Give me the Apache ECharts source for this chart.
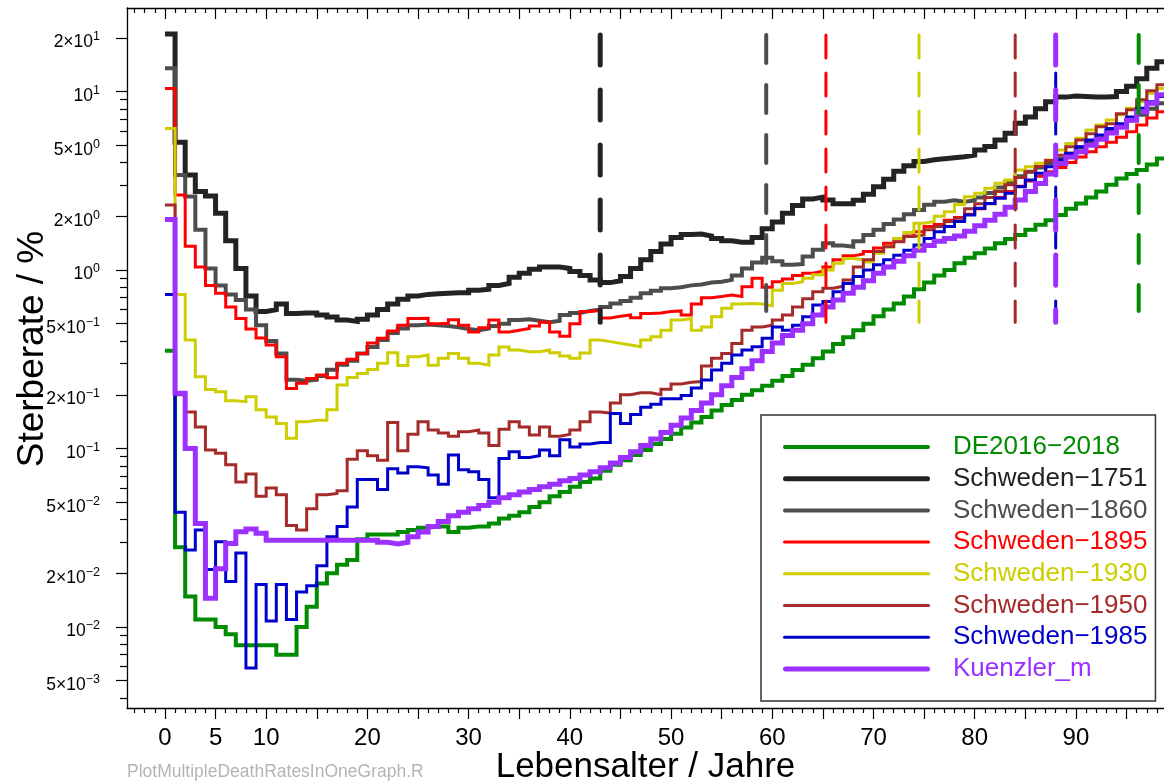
<!DOCTYPE html>
<html>
<head>
<meta charset="utf-8">
<title>Sterberaten</title>
<script src="https://cdn.jsdelivr.net/npm/echarts@6/dist/echarts.min.js"></script>
<style>
  html, body { margin: 0; padding: 0; background: #fff; }
  #chart { width: 1164px; height: 784px; }
</style>
</head>
<body>
<div id="chart"></div>
<script>
// Death rates (percent per year of age) by single year of age 0..98
const seriesNames = ['DE2016−2018', 'Schweden−1751', 'Schweden−1860', 'Schweden−1895',
                     'Schweden−1930', 'Schweden−1950', 'Schweden−1985', 'Kuenzler_m'];

const de2016 = [0.353, 0.028, 0.0148, 0.011, 0.011, 0.01, 0.0091, 0.0079, 0.0079, 0.0079,
  0.0079, 0.007, 0.007, 0.01, 0.013, 0.0175, 0.02, 0.0223, 0.0237, 0.031,
  0.033, 0.033, 0.033, 0.034, 0.035, 0.036, 0.0365, 0.0365, 0.034, 0.036,
  0.0365, 0.0365, 0.038, 0.0405, 0.042, 0.044, 0.047, 0.05, 0.054, 0.057,
  0.061, 0.065, 0.068, 0.075, 0.081, 0.086, 0.092, 0.098, 0.106, 0.113,
  0.121, 0.131, 0.14, 0.15, 0.163, 0.175, 0.187, 0.2, 0.212, 0.225,
  0.24, 0.255, 0.275, 0.295, 0.32, 0.35, 0.385, 0.42, 0.46, 0.5,
  0.55, 0.6, 0.65, 0.71, 0.78, 0.85, 0.93, 1.0, 1.09, 1.17,
  1.24, 1.32, 1.41, 1.49, 1.57, 1.68, 1.79, 1.9, 2.03, 2.2,
  2.36, 2.55, 2.75, 3.0, 3.26, 3.45, 3.63, 3.9, 4.22];

const sweden1751 = [21, 5.2, 3.4, 2.75, 2.6, 2.08, 1.46, 1.02, 0.715, 0.585,
  0.6, 0.645, 0.57, 0.575, 0.575, 0.56, 0.545, 0.525, 0.515, 0.53,
  0.56, 0.6, 0.645, 0.685, 0.715, 0.73, 0.735, 0.74, 0.745, 0.745,
  0.77, 0.78, 0.82, 0.84, 0.91, 0.96, 1.01, 1.04, 1.04, 1.02,
  0.98, 0.93, 0.88, 0.85, 0.87, 0.92, 1.02, 1.14, 1.27, 1.4,
  1.52, 1.58, 1.59, 1.55, 1.5, 1.46, 1.43, 1.43, 1.52, 1.7,
  1.86, 2.08, 2.3, 2.5, 2.56, 2.47, 2.35, 2.35, 2.46, 2.66,
  2.93, 3.22, 3.58, 3.84, 4.05, 4.15, 4.2, 4.25, 4.31, 4.4,
  4.7, 4.92, 5.35, 5.83, 6.63, 7.2, 8.0, 8.77, 9.3, 9.44,
  9.37, 9.3, 9.3, 9.37, 10.0, 10.7, 11.8, 13.5, 14.7];

const sweden1860 = [13.5, 3.4, 2.58, 1.68, 1.02, 0.82, 0.73, 0.68, 0.6, 0.49,
  0.4, 0.34, 0.243, 0.24, 0.243, 0.255, 0.276, 0.295, 0.31, 0.34,
  0.37, 0.405, 0.443, 0.47, 0.49, 0.495, 0.49, 0.485, 0.478, 0.467,
  0.46, 0.47, 0.485, 0.5, 0.525, 0.53, 0.52, 0.51, 0.52, 0.56,
  0.575, 0.59, 0.6, 0.62, 0.65, 0.67, 0.7, 0.74, 0.765, 0.79,
  0.8, 0.82, 0.83, 0.85, 0.86, 0.88, 0.93, 1.02, 1.1, 1.17,
  1.12, 1.07, 1.08, 1.19, 1.3, 1.41, 1.37, 1.35, 1.45, 1.57,
  1.68, 1.81, 1.92, 2.05, 2.17, 2.32, 2.41, 2.46, 2.41, 2.45,
  2.55, 2.7, 2.9, 3.1, 3.35, 3.55, 3.75, 3.95, 4.2, 4.5,
  4.85, 5.2, 5.6, 6.0, 6.4, 6.9, 7.4, 8.0, 8.6];

const sweden1895 = [10.4, 2.63, 1.36, 1.04, 0.82, 0.74, 0.62, 0.535, 0.467, 0.416,
  0.38, 0.327, 0.217, 0.232, 0.247, 0.258, 0.249, 0.3, 0.316, 0.34,
  0.39, 0.415, 0.455, 0.49, 0.535, 0.537, 0.5, 0.503, 0.527, 0.49,
  0.45, 0.475, 0.525, 0.45, 0.46, 0.47, 0.485, 0.51, 0.45, 0.425,
  0.5, 0.585, 0.595, 0.538, 0.55, 0.56, 0.54, 0.57, 0.575, 0.585,
  0.59, 0.56, 0.645, 0.7, 0.71, 0.725, 0.71, 0.806, 0.9, 0.8,
  0.86, 0.89, 0.93, 0.96, 0.985, 1.04, 1.14, 1.2, 1.23, 1.27,
  1.33, 1.41, 1.49, 1.55, 1.64, 1.75, 1.8, 1.9, 1.97, 2.05,
  2.2, 2.35, 2.55, 2.75, 2.95, 3.15, 3.35, 3.55, 3.75, 4.0,
  4.3, 4.6, 4.9, 5.2, 5.55, 5.95, 6.5, 7.1, 7.7];

const sweden1930 = [6.2, 0.73, 0.405, 0.252, 0.214, 0.208, 0.185, 0.183, 0.195, 0.165,
  0.15, 0.138, 0.114, 0.141, 0.144, 0.144, 0.165, 0.227, 0.25, 0.263,
  0.277, 0.3, 0.344, 0.292, 0.327, 0.334, 0.293, 0.32, 0.34, 0.32,
  0.3, 0.293, 0.334, 0.37, 0.356, 0.348, 0.348, 0.356, 0.344, 0.33,
  0.32, 0.343, 0.405, 0.397, 0.388, 0.38, 0.372, 0.405, 0.423, 0.46,
  0.525, 0.535, 0.46, 0.48, 0.547, 0.61, 0.645, 0.65, 0.645, 0.63,
  0.77, 0.84, 0.86, 0.9, 0.94, 1.0, 1.09, 1.16, 1.14, 1.11,
  1.24, 1.35, 1.5, 1.62, 1.83, 1.87, 2.0, 2.12, 2.33, 2.57,
  2.69, 2.87, 3.06, 3.19, 3.63, 3.79, 3.96, 4.13, 4.7, 5.12,
  5.47, 6.09, 6.5, 6.93, 7.4, 8.06, 8.76, 9.77, 10.4];

const sweden1950 = [2.31, 0.2, 0.16, 0.132, 0.098, 0.094, 0.081, 0.065, 0.072, 0.054,
  0.06, 0.055, 0.037, 0.035, 0.046, 0.055, 0.056, 0.058, 0.087, 0.097,
  0.091, 0.086, 0.14, 0.097, 0.12, 0.141, 0.127, 0.122, 0.117, 0.124,
  0.127, 0.122, 0.104, 0.128, 0.141, 0.132, 0.119, 0.132, 0.117, 0.12,
  0.127, 0.141, 0.16, 0.158, 0.18, 0.2, 0.205, 0.205, 0.2, 0.215,
  0.23, 0.235, 0.237, 0.29, 0.32, 0.34, 0.388, 0.46, 0.48, 0.49,
  0.525, 0.56, 0.62, 0.69, 0.756, 0.79, 0.81, 0.88, 1.04, 1.14,
  1.27, 1.35, 1.44, 1.54, 1.57, 1.68, 1.75, 1.87, 1.95, 2.2,
  2.35, 2.55, 2.75, 3.0, 3.3, 3.55, 3.8, 4.1, 4.4, 4.9,
  5.35, 5.8, 6.35, 6.6, 7.5, 7.9, 9.0, 10.1, 10.9];

const sweden1985 = [0.73, 0.044, 0.027, 0.035, 0.021, 0.03, 0.018, 0.026, 0.0059, 0.0173,
  0.0108, 0.0173, 0.011, 0.0157, 0.017, 0.022, 0.032, 0.0365, 0.047, 0.067,
  0.067, 0.059, 0.077, 0.073, 0.079, 0.078, 0.071, 0.063, 0.092, 0.076,
  0.074, 0.067, 0.053, 0.088, 0.096, 0.089, 0.091, 0.098, 0.091, 0.112,
  0.102, 0.106, 0.108, 0.108, 0.157, 0.138, 0.155, 0.17, 0.177, 0.19,
  0.19, 0.198, 0.218, 0.242, 0.275, 0.3, 0.334, 0.356, 0.372, 0.415,
  0.48, 0.46, 0.49, 0.547, 0.637, 0.665, 0.756, 0.84, 0.92, 1.0,
  1.07, 1.14, 1.21, 1.29, 1.38, 1.5, 1.64, 1.75, 1.87, 2.03,
  2.22, 2.36, 2.52, 2.69, 2.93, 3.19, 3.48, 3.79, 4.13, 4.5,
  4.9, 5.35, 5.7, 6.2, 6.6, 7.2, 8.06, 8.76, 9.37];

const kuenzlerM = [1.92, 0.204, 0.1, 0.038, 0.0145, 0.0212, 0.0294, 0.0342, 0.0354, 0.0335,
  0.0306, 0.0306, 0.0306, 0.0306, 0.0306, 0.0306, 0.0306, 0.0306, 0.0306, 0.0306,
  0.0306, 0.0298, 0.0292, 0.0298, 0.032, 0.034, 0.0365, 0.039, 0.042, 0.044,
  0.046, 0.048, 0.05, 0.053, 0.055, 0.057, 0.059, 0.061, 0.063, 0.066,
  0.068, 0.071, 0.074, 0.078, 0.083, 0.089, 0.096, 0.104, 0.113, 0.123,
  0.135, 0.148, 0.163, 0.18, 0.2, 0.225, 0.25, 0.28, 0.31, 0.35,
  0.39, 0.43, 0.46, 0.5, 0.56, 0.62, 0.68, 0.74, 0.8, 0.87,
  0.96, 1.04, 1.12, 1.2, 1.29, 1.37, 1.45, 1.5, 1.55, 1.65,
  1.77, 1.9, 2.05, 2.25, 2.47, 2.75, 3.05, 3.45, 3.95, 4.3,
  4.6, 5.0, 5.4, 5.85, 6.3, 6.9, 7.7, 8.6, 9.6];

const rateSeries = [de2016, sweden1751, sweden1860, sweden1895, sweden1930, sweden1950, sweden1985, kuenzlerM];

// Vertical reference ages per curve (same order as seriesNames) and their vertical span
const markerAges = [96.2, 43.0, 59.4, 65.3, 74.5, 84.0, 88.0, 88.0];
const markerTop = [20.7, 20.7, 20.7, 20.7, 20.7, 20.7, 20.7, 20.7];
const markerBottom = [0.59, 0.51, 0.59, 0.51, 0.51, 0.51, 0.51, 0.51];

// Axis tick labels
const xTickLabels = [0, 5, 10, 20, 30, 40, 50, 60, 70, 80, 90];
const yTickValues = [20, 10, 5, 2, 1, 0.5, 0.2, 0.1, 0.05, 0.02, 0.01, 0.005];
const yTickMantissa = ['2×10', '10', '5×10', '2×10', '10', '5×10', '2×10', '10', '5×10', '2×10', '10', '5×10'];
const yTickExponent = ['1', '1', '0', '0', '0', '−1', '−1', '−1', '−2', '−2', '−2', '−3'];

// Line appearance per curve
const lineColors = ['#008B00', '#232323', '#4D4D4D', '#FF0000', '#CDCD00', '#A52A2A', '#0000CD', '#9B30FF'];
const lineWidths = [4, 5, 4, 3, 3, 3, 3, 5];
const dashPatterns = [[28, 22], [30, 25], [28, 22], [23, 15], [23, 15], [23, 15], [23, 15], [30, 25]];

const FONT = 'Liberation Sans, Arial, Helvetica, sans-serif';
const X_MIN = -3.75, X_MAX = 98.7;
const Y_MIN = 0.003517, Y_MAX = 29.36;

// tick positions: every year (minor), every 5 years (major)
const xMinorTicks = [];
for (let a = Math.ceil(X_MIN); a <= Math.floor(X_MAX); a++) if (a % 5 !== 0) xMinorTicks.push(a);
const xMajorTicks = [];
for (let a = 0; a <= X_MAX; a += 5) xMajorTicks.push(a);
// log minor ticks at k*10^n that carry no label
const yMinorTicks = [];
for (let n = -3; n <= 1; n++) {
  for (let k = 1; k <= 9; k++) {
    const v = Number((k * Math.pow(10, n)).toPrecision(3));
    if (v >= Y_MIN && v <= Y_MAX && !yTickValues.some(t => Math.abs(t - v) < t * 1e-6)) yMinorTicks.push(v);
  }
}

function stepData(values) {
  const pts = values.map((v, age) => [age, v]);
  pts.push([values.length, values[values.length - 1]]); // right edge of the last year
  return pts;
}

function legendBar(thick) {
  const L = 147, r = thick / 2;
  return 'path://M' + r + ',0 L' + (L - r) + ',0 A' + r + ',' + r + ' 0 0 1 ' + (L - r) + ',' + thick +
         ' L' + r + ',' + thick + ' A' + r + ',' + r + ' 0 0 1 ' + r + ',0 Z';
}

const axisLineStyle = { color: '#000', width: 1.3 };
const tickStyle = { color: '#000', width: 1.2 };

const series = [];
rateSeries.forEach((vals, i) => {
  series.push({
    name: seriesNames[i],
    type: 'line',
    step: 'end',
    symbol: 'none',
    clip: true,
    data: stepData(vals),
    lineStyle: { color: lineColors[i], width: lineWidths[i], join: 'miter' },
    itemStyle: { color: lineColors[i] },
    emphasis: { disabled: true },
    z: 2 + i * 0.01
  });
});
markerAges.forEach((age, i) => {
  series.push({
    name: seriesNames[i] + ' Marke',
    type: 'line',
    symbol: 'none',
    clip: true,
    data: [[age, markerTop[i]], [age, markerBottom[i]]],
    lineStyle: { color: lineColors[i], width: lineWidths[i], type: dashPatterns[i], cap: 'round' },
    emphasis: { disabled: true },
    z: 3 + i * 0.01
  });
});

const chart = echarts.init(document.getElementById('chart'), null, { renderer: 'canvas' });
chart.setOption({
  animation: false,
  backgroundColor: '#fff',
  textStyle: { fontFamily: FONT },
  grid: { left: 127, top: 8, right: 0, bottom: 76, containLabel: false, outerBoundsMode: 'none' },
  xAxis: [
    {
      type: 'value', position: 'bottom', min: X_MIN, max: X_MAX,
      axisLine: { show: true, onZero: false, lineStyle: axisLineStyle },
      axisTick: { show: true, customValues: xMajorTicks, length: 11, lineStyle: tickStyle },
      axisLabel: { show: true, customValues: xTickLabels, margin: 18, fontSize: 24, color: '#000', fontFamily: FONT },
      splitLine: { show: false },
      name: 'Lebensalter / Jahre', nameLocation: 'middle', nameGap: 42, nameMoveOverlap: false,
      nameTextStyle: { fontSize: 35, color: '#000', fontFamily: FONT }
    },
    {
      type: 'value', position: 'bottom', min: X_MIN, max: X_MAX,
      axisLine: { show: false, onZero: false },
      axisTick: { show: true, customValues: xMinorTicks, length: 5, lineStyle: tickStyle },
      axisLabel: { show: false }, splitLine: { show: false }
    },
    {
      type: 'value', position: 'top', min: X_MIN, max: X_MAX,
      axisLine: { show: true, onZero: false, lineStyle: axisLineStyle },
      axisTick: { show: true, inside: true, customValues: xMajorTicks, length: 11, lineStyle: tickStyle },
      axisLabel: { show: false }, splitLine: { show: false }
    },
    {
      type: 'value', position: 'top', min: X_MIN, max: X_MAX,
      axisLine: { show: false, onZero: false },
      axisTick: { show: true, inside: true, customValues: xMinorTicks, length: 5, lineStyle: tickStyle },
      axisLabel: { show: false }, splitLine: { show: false }
    }
  ],
  yAxis: [
    {
      type: 'log', logBase: 10, position: 'left', min: Y_MIN, max: Y_MAX,
      axisLine: { show: true, onZero: false, lineStyle: axisLineStyle },
      axisTick: { show: true, customValues: yTickValues, length: 11, lineStyle: tickStyle },
      axisLabel: {
        show: true, customValues: yTickValues, margin: 27, padding: [9, 0, 0, 0],
        formatter: function (v) {
          const i = yTickValues.findIndex(t => Math.abs(v - t) <= t * 1e-6);
          return i >= 0 ? '{b|' + yTickMantissa[i] + '}{s|' + yTickExponent[i] + '}' : '';
        },
        rich: {
          b: { fontSize: 17.5, lineHeight: 24, color: '#000', fontFamily: FONT },
          s: { fontSize: 12.5, lineHeight: 12, verticalAlign: 'top', color: '#000', fontFamily: FONT }
        }
      },
      splitLine: { show: false }
    },
    {
      type: 'log', logBase: 10, position: 'left', min: Y_MIN, max: Y_MAX,
      axisLine: { show: false, onZero: false },
      axisTick: { show: true, customValues: yMinorTicks, length: 7, lineStyle: tickStyle },
      axisLabel: { show: false }, splitLine: { show: false }
    }
  ],
  legend: {
    orient: 'vertical', left: 761, top: 415,
    padding: [19, 8, 19, 22],
    itemWidth: 147, itemHeight: 14, itemGap: 5.7,
    backgroundColor: '#fff', borderColor: '#333', borderWidth: 1.5, borderRadius: 0,
    selectedMode: false,
    textStyle: { fontSize: 26, lineHeight: 26, fontFamily: FONT, padding: [0, 0, 0, 18] },
    data: seriesNames.map((n, i) => ({
      name: n,
      icon: legendBar(lineWidths[i]),
      itemStyle: { color: lineColors[i], borderWidth: 0 },
      textStyle: { color: lineColors[i] }
    }))
  },
  graphic: [
    {
      type: 'text', x: 33, y: 349, rotation: Math.PI / 2, silent: true,
      style: { text: 'Sterberate / %', fill: '#000', font: '37px ' + FONT, align: 'center', verticalAlign: 'middle' }
    },
    {
      type: 'text', left: 127, top: 763, silent: true,
      style: { text: 'PlotMultipleDeathRatesInOneGraph.R', fill: '#b4b4b4', font: '17.5px ' + FONT }
    }
  ],
  series: series
});
</script>
</body>
</html>
